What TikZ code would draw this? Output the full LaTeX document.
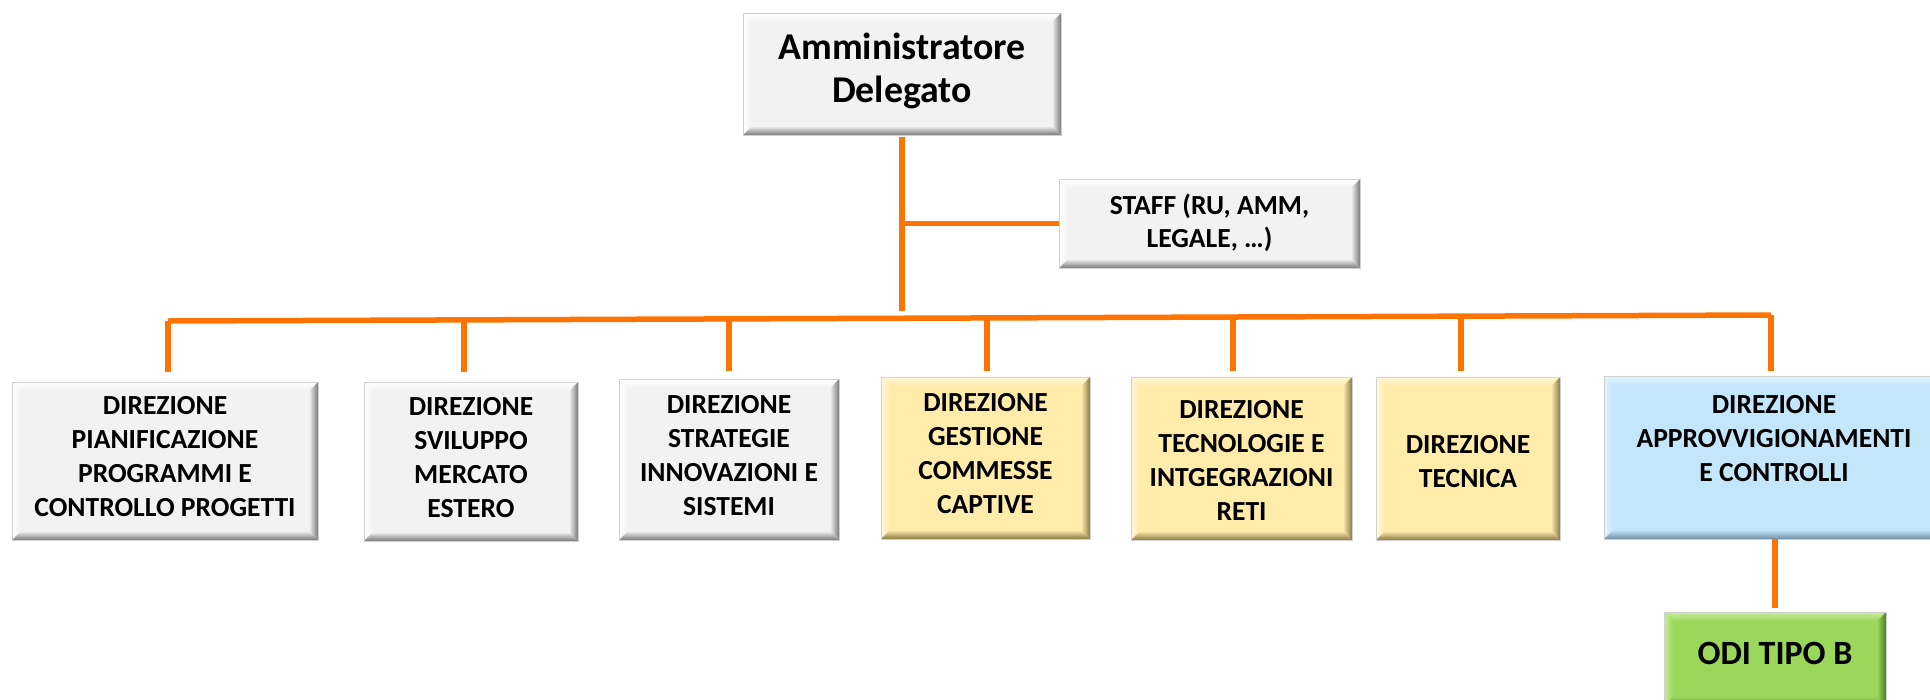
\documentclass[tikz,border=0pt]{standalone}
\usepackage{fontspec}
\setmainfont{Carlito}
\definecolor{orgline}{HTML}{FF7300}
\definecolor{gbase}{HTML}{F2F2F2}
\definecolor{glight}{HTML}{FFFFFF}
\definecolor{gdark}{HTML}{7A7A7A}
\definecolor{ybase}{HTML}{FFEBAA}
\definecolor{ylight}{HTML}{FFF7DE}
\definecolor{ydark}{HTML}{8C7A45}
\definecolor{bbase}{HTML}{C3E6FA}
\definecolor{blight}{HTML}{E6F5FE}
\definecolor{bdark}{HTML}{6E8DA6}
\definecolor{nbase}{HTML}{9BD75B}
\definecolor{nlight}{HTML}{C8EE9C}
\definecolor{ndark}{HTML}{4F7A25}
\begin{document}
\begin{tikzpicture}[x=1pt,y=-1pt,
  conn/.style={draw=orgline, line width=5.5pt},
  bx/.style n args={3}{draw=black!18, line width=0.6pt, fill=#1, inner sep=0pt, outer sep=0pt,
    path picture={
      \path (path picture bounding box.north west) coordinate (pa)
            (path picture bounding box.north east) coordinate (pb)
            (path picture bounding box.south east) coordinate (pc)
            (path picture bounding box.south west) coordinate (pd);
      \path ([shift={(9pt,-9pt)}]pa) coordinate (pai)
            ([shift={(-9pt,-9pt)}]pb) coordinate (pbi)
            ([shift={(-9pt,9pt)}]pc) coordinate (pci)
            ([shift={(9pt,9pt)}]pd) coordinate (pdi);
      \shade[top color=#2, bottom color=#1] (pa) -- (pb) -- (pbi) -- (pai) -- cycle;
      \shade[left color=#2, right color=#1] (pa) -- (pai) -- (pdi) -- (pd) -- cycle;
      \shade[left color=#1, right color=#3] (pb) -- (pc) -- (pci) -- (pbi) -- cycle;
      \shade[top color=#1, bottom color=#3] (pdi) -- (pci) -- (pc) -- (pd) -- cycle;
    }},
  gbox/.style={bx={gbase}{glight}{gdark}},
  ybox/.style={bx={ybase}{ylight}{ydark}},
  bbox/.style={bx={bbase}{blight}{bdark}},
  nbox/.style={bx={nbase}{nlight}{ndark}},
  txt/.style={anchor=north, inner sep=0pt, align=center, text=black, font=\fontsize{27.6}{34}\selectfont\bfseries},
  bigtxt/.style={txt, font=\fontsize{37.8}{43}\selectfont\bfseries},
  stafftxt/.style={txt, font=\fontsize{27.6}{33}\selectfont\bfseries},
  oditxt/.style={txt, font=\fontsize{34}{38}\selectfont\bfseries}
]
\useasboundingbox (0,0) rectangle (1930,699);
\fill[white] (0,0) rectangle (1930,699);

% boxes
\node[gbox, minimum width=318pt, minimum height=122pt] (ad) at (902,74) {};
\node[gbox, minimum width=301pt, minimum height=89pt] (staff) at (1209.5,223.5) {};
\node[gbox, minimum width=306pt, minimum height=158pt] (b1) at (165,461) {};
\node[gbox, minimum width=214pt, minimum height=159pt] (b2) at (471,461.5) {};
\node[gbox, minimum width=220pt, minimum height=161pt] (b3) at (729,459.5) {};
\node[ybox, minimum width=209pt, minimum height=162pt] (b4) at (985.5,458) {};
\node[ybox, minimum width=221pt, minimum height=163pt] (b5) at (1241.5,458.5) {};
\node[ybox, minimum width=184pt, minimum height=163pt] (b6) at (1468,458.5) {};
\node[bbox, minimum width=340pt, minimum height=163pt] (b7) at (1774,457.5) {};
\node[nbox, minimum width=222pt, minimum height=94pt] (odi) at (1775,659) {};

% texts
\node[bigtxt] (adt) at (902,33) {Amministratore\\Delegato};
\node[stafftxt] (stafft) at (1209.5,194) {STAFF (RU, AMM,\\LEGALE, …)};
\node[txt] (b1t) at (165,396) {DIREZIONE\\PIANIFICAZIONE\\PROGRAMMI E\\CONTROLLO PROGETTI};
\node[txt] (b2t) at (471,397) {DIREZIONE\\SVILUPPO\\MERCATO\\ESTERO};
\node[txt] (b3t) at (729,395) {DIREZIONE\\STRATEGIE\\INNOVAZIONI E\\SISTEMI};
\node[txt] (b4t) at (985.5,393) {DIREZIONE\\GESTIONE\\COMMESSE\\CAPTIVE};
\node[txt] (b5t) at (1241.5,400) {DIREZIONE\\TECNOLOGIE E\\INTGEGRAZIONI\\RETI};
\node[txt] (b6t) at (1468,435) {DIREZIONE\\TECNICA};
\node[txt] (b7t) at (1774,395) {DIREZIONE\\APPROVVIGIONAMENTI\\E CONTROLLI};
\node[oditxt] (odit) at (1775,642) {ODI TIPO B};

% junction coordinates on the bus
\coordinate (d1) at (168,321);
\coordinate (d2) at (464,319.9);
\coordinate (d3) at (729,318.9);
\coordinate (d4) at (987,317.9);
\coordinate (d5) at (1233,317.0);
\coordinate (d6) at (1461,316.2);
\coordinate (d7) at (1771,315);
\coordinate (adend) at (902,311);

% connectors
\draw[conn] ([yshift=-2pt]ad.south) -- (adend);
\draw[conn] (ad.south |- staff.west) -- (staff.west);
\draw[conn] (d1) -- (d7);
\draw[conn] (d1) -- ([yshift=10pt]b1.north -| d1);
\draw[conn] (d2) -- ([yshift=10pt]b2.north -| d2);
\draw[conn] (d3) -- ([yshift=8pt]b3.north -| d3);
\draw[conn] (d4) -- ([yshift=6pt]b4.north -| d4);
\draw[conn] (d5) -- ([yshift=6pt]b5.north -| d5);
\draw[conn] (d6) -- ([yshift=6pt]b6.north -| d6);
\draw[conn] (d7) -- ([yshift=5pt]b7.north -| d7);
\draw[conn] (b7.south -| odi.north) -- ([yshift=4pt]odi.north);
\end{tikzpicture}
\end{document}
